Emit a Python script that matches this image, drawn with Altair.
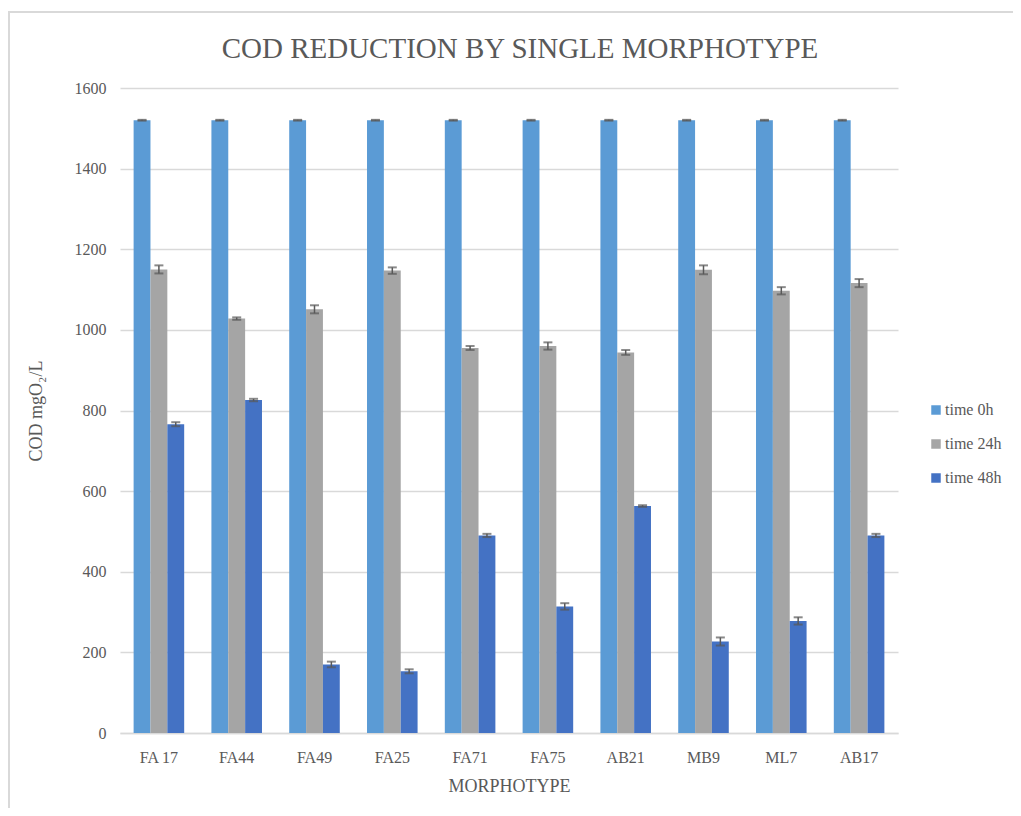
import altair as alt
import pandas as pd

categories = ["FA 17", "FA44", "FA49", "FA25", "FA71", "FA75", "AB21", "MB9", "ML7", "AB17"]
series_names = ["time 0h", "time 24h", "time 48h"]
colors = ["#5B9BD5", "#A5A5A5", "#4472C4"]
title_text = ["COD REDUCTION BY SINGLE MORPHOTYPE"]

time0 = [1520, 1520, 1520, 1520, 1520, 1520, 1520, 1520, 1520, 1520]
err0 = [1, 1, 1, 1, 1, 1, 1, 1, 1, 1]
time24 = [1150, 1028, 1051, 1147, 955, 960, 944, 1149, 1097, 1116]
err24 = [10, 3, 10, 8, 5, 9, 6, 11, 9, 10]
time48 = [766, 826, 170, 153, 490, 314, 563, 227, 278, 490]
err48 = [5, 3, 7, 5, 4, 8, 2, 10, 9, 4]

rows = []
for vals, errs, name in [(time0, err0, "time 0h"), (time24, err24, "time 24h"), (time48, err48, "time 48h")]:
    for c, v, e in zip(categories, vals, errs):
        rows.append({"morph": c, "series": name, "value": v, "lo": v - e, "hi": v + e})
df = pd.DataFrame(rows)

FONT = "Liberation Serif, Times New Roman, serif"
TXT = "#595959"

x_enc = alt.X("morph:N", sort=categories,
              scale=alt.Scale(paddingInner=0.35, paddingOuter=0.175),
              axis=alt.Axis(title="MORPHOTYPE", labelAngle=0, ticks=False, domainColor="#d9d9d9",
                            domainWidth=1.5, labelPadding=16, titlePadding=12))
xo_enc = alt.XOffset("series:N", sort=series_names, scale=alt.Scale(domain=series_names, paddingInner=0, paddingOuter=0))

base = alt.Chart(df)

bars = base.mark_bar().encode(
    x=x_enc,
    xOffset=xo_enc,
    y=alt.Y("value:Q", scale=alt.Scale(domain=[0, 1600]),
            axis=alt.Axis(title="COD mgO₂/L", values=[0, 200, 400, 600, 800, 1000, 1200, 1400, 1600],
                          format="d", ticks=False, domain=False, gridColor="#d9d9d9", gridWidth=1.5,
                          labelPadding=14, titlePadding=29)),
    color=alt.Color("series:N", sort=series_names,
                    scale=alt.Scale(domain=series_names, range=colors),
                    legend=alt.Legend(title=None, orient="none", legendX=808, legendY=314,
                                      symbolType="square", symbolSize=90, symbolStrokeWidth=0,
                                      labelFontSize=16, labelFont=FONT, labelColor=TXT,
                                      rowPadding=18, labelOffset=1)),
)

rules = base.mark_rule(color="#595959", strokeWidth=1.5).encode(
    x=alt.X("morph:N", sort=categories),
    xOffset=xo_enc,
    y="lo:Q",
    y2="hi:Q",
)
cap_lo = base.mark_tick(color="#595959", thickness=2, size=9).encode(
    x=alt.X("morph:N", sort=categories), xOffset=xo_enc, y="lo:Q")
cap_hi = base.mark_tick(color="#595959", thickness=2, size=9).encode(
    x=alt.X("morph:N", sort=categories), xOffset=xo_enc, y="hi:Q")

frame = alt.Chart(pd.DataFrame({"a": [0]})).mark_rect(fill=None, stroke="#d9d9d9", strokeWidth=2, clip=False).encode(
    x=alt.value(-111), x2=alt.value(915), y=alt.value(-76), y2=alt.value(745))

title = alt.Chart(pd.DataFrame({"t": title_text})).mark_text(
    font=FONT, fontSize=29, color=TXT, align="center", baseline="alphabetic", clip=False
).encode(text="t:N", x=alt.value(400), y=alt.value(-30))

chart = alt.layer(frame, bars, rules, cap_lo, cap_hi, title).properties(
    width=778, height=645,
    autosize=alt.AutoSizeParams(type="none"),
    padding={"left": 112, "top": 80, "right": 115, "bottom": 75},
).configure(font=FONT).configure_view(stroke=None).configure_axis(
    labelFont=FONT, titleFont=FONT, labelFontSize=16, titleFontSize=18, labelColor=TXT, titleColor=TXT,
    titleFontWeight="normal"
).configure_legend(labelFont=FONT)

chart.save("out.html", embed_options={"renderer": "svg", "actions": False})
